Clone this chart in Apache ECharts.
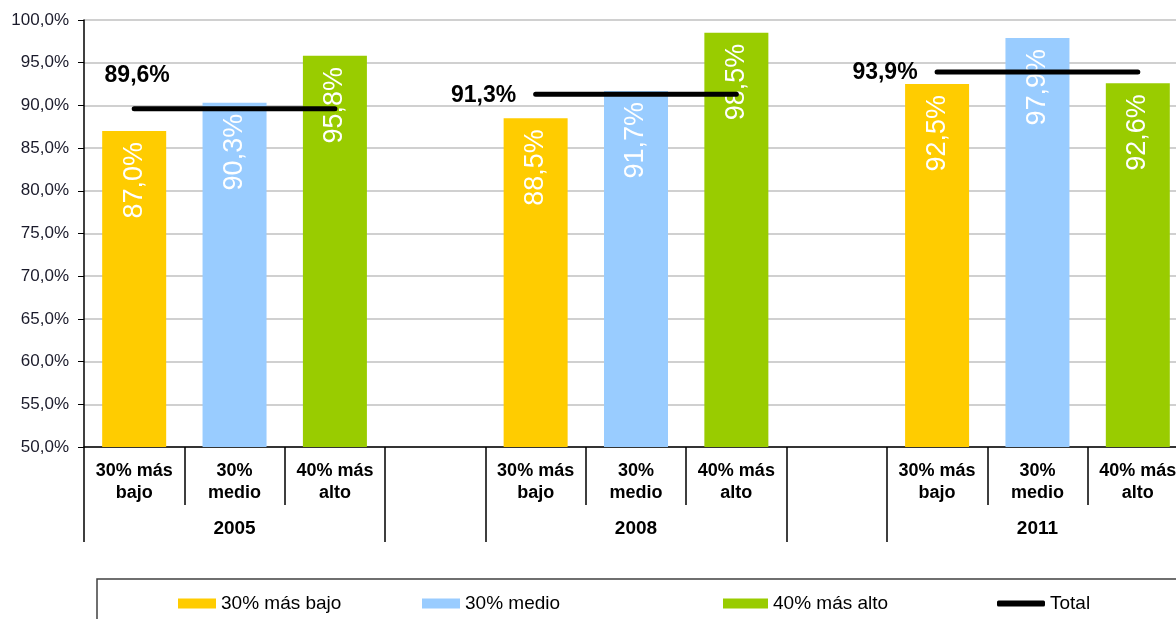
<!DOCTYPE html>
<html>
<head>
<meta charset="utf-8">
<script src="https://cdn.jsdelivr.net/npm/echarts@6/dist/echarts.min.js"></script>
<style>html,body{margin:0;padding:0;background:#fff;overflow:hidden;}#c{width:1188px;height:619px;}</style>
</head>
<body>
<div id="c"></div>
<script>
const years = ['2005', '2008', '2011'];
const groupLabels = ['30% más\nbajo', '30%\nmedio', '40% más\nalto'];
const seriesNames = ['30% más bajo', '30% medio', '40% más alto', 'Total'];
const bajo = [87.0, 88.5, 92.5];
const medio = [90.3, 91.7, 97.9];
const alto = [95.8, 98.5, 92.6];
const total = [89.6, 91.3, 93.9];
const yTicks = [50, 55, 60, 65, 70, 75, 80, 85, 90, 95, 100];

// build 11 slots: 3 bars + gap, 3 bars + gap, 3 bars
const cats = [], yearCats = [];
const sB = [], sM = [], sA = [], sT = [];
years.forEach((y, i) => {
  if (i > 0) { cats.push(''); yearCats.push(''); sB.push('-'); sM.push('-'); sA.push('-'); sT.push('-'); }
  groupLabels.forEach((g, j) => { cats.push(g); yearCats.push(j === 1 ? y : ''); });
  sB.push(bajo[i], '-', '-');
  sM.push('-', medio[i], '-');
  sA.push('-', '-', alto[i]);
  const lblPos = i === 0
    ? { show: true, position: 'top', distance: 5, offset: [3, -16] }
    : { show: true, position: 'left', distance: 19, offset: [0, 1] };
  sT.push({ value: total[i], label: lblPos }, total[i], total[i]);
});
const groupEdges = [0, 3, 4, 7, 8, 11];

const FONT = 'Liberation Sans, Arial, sans-serif';
const fmt = v => v.toFixed(1).replace('.', ',') + '%';
const barLabel = {
  show: true, position: 'insideTop', rotate: 90, align: 'right', verticalAlign: 'middle',
  distance: 11, color: '#fff', fontSize: 27, fontFamily: FONT,
  formatter: p => fmt(p.value)
};
const mkBar = (name, data, color) => ({
  name, type: 'bar', data, barWidth: 64, barGap: '-100%', xAxisIndex: 0,
  itemStyle: { color }, label: barLabel, z: 2
});

const chart = echarts.init(document.getElementById('c'), null, { renderer: 'canvas' });
const legendBase = { top: 594, padding: 0, itemHeight: 10, itemWidth: 38, itemGap: 3,
  textStyle: { fontSize: 19, color: '#000', fontFamily: FONT } };
chart.setOption({
  animation: false,
  backgroundColor: '#fff',
  textStyle: { fontFamily: FONT },
  grid: { left: 84, top: 20, right: 0, bottom: 172, containLabel: false },
  graphic: [{ type: 'rect', shape: { x: 97, y: 579, width: 1120, height: 80 },
    style: { fill: 'none', stroke: '#404040', lineWidth: 1.5 }, silent: true }],
  legend: [
    Object.assign({}, legendBase, { left: 178, data: [{ name: seriesNames[0], icon: 'rect' }] }),
    Object.assign({}, legendBase, { left: 422, data: [{ name: seriesNames[1], icon: 'rect' }] }),
    Object.assign({}, legendBase, { left: 723, itemWidth: 45, data: [{ name: seriesNames[2], icon: 'rect' }] }),
    Object.assign({}, legendBase, { left: 997, itemWidth: 48, itemHeight: 6, itemGap: 2,
      data: [{ name: seriesNames[3], icon: 'roundRect', itemStyle: { color: '#000' } }] })
  ],
  xAxis: [
    { type: 'category', data: cats, boundaryGap: true, position: 'bottom',
      axisLine: { show: true, lineStyle: { color: '#000', width: 1.5 } },
      axisTick: { show: true, interval: 0, length: 58, lineStyle: { color: '#000', width: 1.5 } },
      axisLabel: { interval: 0, margin: 13, fontSize: 18, fontWeight: 'bold', color: '#000', lineHeight: 22 },
      splitLine: { show: false } },
    { type: 'category', data: yearCats, boundaryGap: true, position: 'bottom',
      axisLine: { show: false },
      axisTick: { show: true, length: 95, interval: (idx) => groupEdges.indexOf(idx) >= 0,
        lineStyle: { color: '#000', width: 1.5 } },
      axisLabel: { interval: 0, margin: 72, fontSize: 19, fontWeight: 'bold', color: '#000' },
      splitLine: { show: false } }
  ],
  yAxis: {
    type: 'value', min: yTicks[0], max: yTicks[yTicks.length - 1], interval: 5,
    axisLine: { show: true, lineStyle: { color: '#000', width: 1.5 } },
    axisTick: { show: true, length: 6, lineStyle: { color: '#000' } },
    axisLabel: { formatter: v => fmt(v), fontSize: 17, color: '#1a1a2a', margin: 15 },
    splitLine: { show: true, lineStyle: { color: '#c0c0c0', width: 1.5 } }
  },
  series: [
    mkBar(seriesNames[0], sB, '#FFCC00'),
    mkBar(seriesNames[1], sM, '#99CCFF'),
    mkBar(seriesNames[2], sA, '#99CC00'),
    { name: seriesNames[3], type: 'line', data: sT, xAxisIndex: 0, connectNulls: false,
      symbol: 'circle', symbolSize: 1, showSymbol: true, itemStyle: { color: '#000' },
      lineStyle: { color: '#000', width: 5, cap: 'round' }, z: 3,
      label: { show: false, color: '#000', fontSize: 23, fontWeight: 'bold', formatter: p => fmt(p.value) } }
  ]
});
</script>
</body>
</html>
